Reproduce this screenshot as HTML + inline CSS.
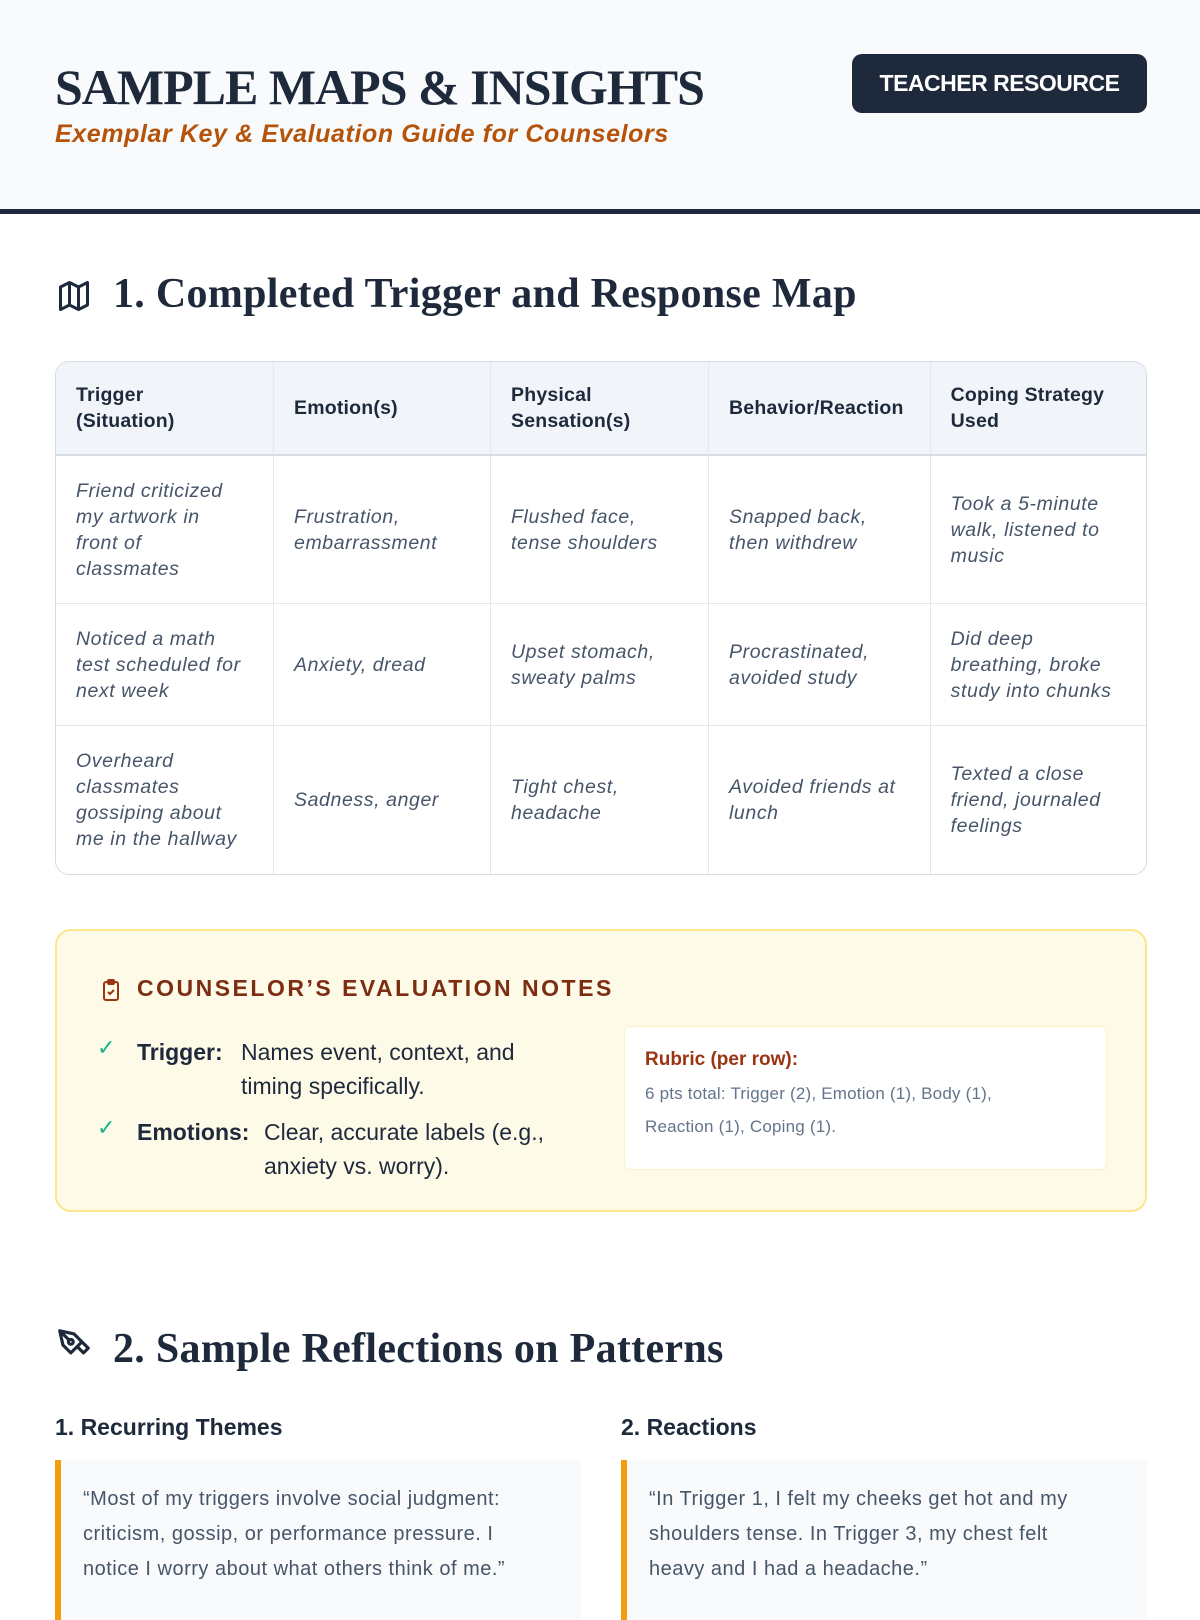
<!DOCTYPE html>
<html><head><meta charset="utf-8"><style>
*{box-sizing:border-box;margin:0;padding:0}
body{width:1200px;height:1600px;overflow:hidden;background:#fff;font-family:"Liberation Sans",sans-serif;color:#1e293b;position:relative}
.hdr{position:absolute;left:0;top:0;width:1200px;height:214px;background:#f8fafc;border-bottom:5px solid #1e293b}
.title{position:absolute;left:55px;top:58px;font:bold 50px "Liberation Serif",serif;color:#1e293b;letter-spacing:-1px}
.sub{position:absolute;left:55px;top:120px;font:italic bold 25px "Liberation Sans",sans-serif;color:#b45309;letter-spacing:0.6px}
.badge{position:absolute;left:852px;top:54px;width:295px;height:59px;background:#1e293b;border-radius:10px;color:#fff;font:bold 23px "Liberation Sans",sans-serif;text-align:center;line-height:59px;letter-spacing:-0.5px}
h2{position:absolute;left:113px;font:bold 42px "Liberation Serif",serif;color:#1e293b;letter-spacing:0.3px}
table{position:absolute;left:55px;top:361px;width:1092px;border-collapse:separate;border-spacing:0;border:1.5px solid #d6dde6;border-radius:14px;overflow:hidden}
td,th{border-right:1px solid #e2e8f0;border-bottom:1px solid #e2e8f0;padding:0 26px 0 20px;vertical-align:middle;text-align:left}
th{background:#f1f5f9;font-size:19.5px;font-weight:bold;height:94px;line-height:26px;border-bottom:2px solid #d6dde6;letter-spacing:0.2px}
td{font-style:italic;font-size:19.5px;color:#475569;line-height:26px;letter-spacing:0.6px}
tr td:last-child,tr th:last-child{border-right:none}
tr:last-child td{border-bottom:none}
.notes{position:absolute;left:55px;top:929px;width:1092px;height:283px;background:#fefae8;border:2px solid #fde68a;border-radius:16px}
.nh{position:absolute;left:80px;top:44px;font:bold 23px "Liberation Sans",sans-serif;color:#7c2d12;letter-spacing:2.5px}
.item{position:absolute;left:80px;font-size:23px;line-height:34px;color:#1e293b}
.item b{position:absolute;left:0;top:0}
.ck{position:absolute;left:-40px;top:-4px;color:#10b981;font-size:22px}
.rub{position:absolute;left:567px;top:95px;width:483px;height:144px;background:#fff;border:1.5px solid #fdf0c2;border-radius:6px;padding:20px 20px}
.rub .t{font:bold 19px "Liberation Sans",sans-serif;color:#9a3412;margin-top:2px}
.rub .d{font-size:17px;color:#64748b;line-height:33px;margin-top:6px;letter-spacing:0.2px}
h3{position:absolute;font:bold 23px "Liberation Sans",sans-serif;color:#1e293b;top:1414px}
.q{position:absolute;top:1460px;height:160px;background:#f8fafc;border-left:6px solid #f59e0b;padding:22px 22px;font-size:20px;line-height:35px;color:#475569;letter-spacing:0.5px}
</style></head><body>
<div class="hdr">
<div class="title">SAMPLE MAPS &amp; INSIGHTS</div>
<div class="sub">Exemplar Key &amp; Evaluation Guide for Counselors</div>
<div class="badge">TEACHER RESOURCE</div>
</div>
<svg style="position:absolute;left:56px;top:278px" width="36" height="36" viewBox="0 0 24 24" fill="none" stroke="#1e293b" stroke-width="2" stroke-linejoin="round"><path d="M3 6l6-3 6 3 6-3v15l-6 3-6-3-6 3z M9 3v15 M15 6v15"/></svg>
<h2 style="top:270px">1. Completed Trigger and Response Map</h2>
<table>
<tr><th style="width:218px">Trigger<br>(Situation)</th><th style="width:217px">Emotion(s)</th><th style="width:218px">Physical<br>Sensation(s)</th><th style="width:220px">Behavior/Reaction</th><th>Coping Strategy<br>Used</th></tr>
<tr style="height:148px"><td>Friend criticized my artwork in front of classmates</td><td>Frustration, embarrassment</td><td>Flushed face, tense shoulders</td><td>Snapped back, then withdrew</td><td>Took a 5-minute walk, listened to music</td></tr>
<tr style="height:122px"><td>Noticed a math<br>test scheduled for<br>next week</td><td>Anxiety, dread</td><td>Upset stomach, sweaty palms</td><td>Procrastinated, avoided study</td><td>Did deep breathing, broke study into chunks</td></tr>
<tr style="height:148px"><td>Overheard classmates gossiping about me in the hallway</td><td>Sadness, anger</td><td>Tight chest, headache</td><td>Avoided friends at lunch</td><td>Texted a close friend, journaled feelings</td></tr>
</table>
<div class="notes">
<svg style="position:absolute;left:42px;top:46px" width="24" height="26" viewBox="0 0 24 24" fill="none" stroke="#9a3412" stroke-width="2"><rect x="5" y="4" width="14" height="18" rx="2"/><rect x="9" y="2" width="6" height="4" rx="1"/><path d="M9 14l2 2 4-4"/></svg>
<div class="nh">COUNSELOR’S EVALUATION NOTES</div>
<div class="item" style="top:104px;width:420px"><span class="ck">✓</span><b>Trigger:</b><div style="padding-left:104px">Names event, context, and timing specifically.</div></div>
<div class="item" style="top:184px;width:460px"><span class="ck">✓</span><b>Emotions:</b><div style="padding-left:127px">Clear, accurate labels (e.g., anxiety vs. worry).</div></div>
<div class="rub"><div class="t">Rubric (per row):</div><div class="d">6 pts total: Trigger (2), Emotion (1), Body (1),<br>Reaction (1), Coping (1).</div></div>
</div>
<svg style="position:absolute;left:55px;top:1326px" width="38" height="38" viewBox="0 0 24 24" fill="none" stroke="#1e293b" stroke-width="2" stroke-linejoin="round"><path d="M3 3l9 2 5 5-7 7-5-5z M3 3l6 6 M17 10l4 4-3 3-4-4"/><circle cx="10" cy="10" r="1.5"/></svg>
<h2 style="top:1325px">2. Sample Reflections on Patterns</h2>
<h3 style="left:55px">1. Recurring Themes</h3>
<h3 style="left:621px">2. Reactions</h3>
<div class="q" style="left:55px;width:526px">“Most of my triggers involve social judgment:<br>criticism, gossip, or performance pressure. I<br>notice I worry about what others think of me.”</div>
<div class="q" style="left:621px;width:526px">“In Trigger 1, I felt my cheeks get hot and my<br>shoulders tense. In Trigger 3, my chest felt<br>heavy and I had a headache.”</div>
</body></html>
